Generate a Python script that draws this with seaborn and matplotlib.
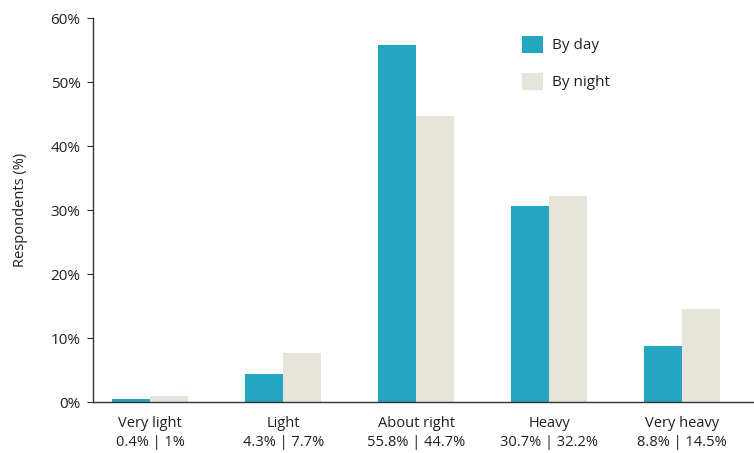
import matplotlib
matplotlib.use("Agg")
import matplotlib.pyplot as plt
import seaborn as sns
import pandas as pd
from matplotlib.patches import Patch

categories = ["Very light", "Light", "About right", "Heavy", "Very heavy"]
by_day = [0.4, 4.3, 55.8, 30.7, 8.8]
by_night = [1.0, 7.7, 44.7, 32.2, 14.5]
series_names = ["By day", "By night"]
y_ticks = [0, 10, 20, 30, 40, 50, 60]

colors = {"By day": "#22A5C0", "By night": "#E6E4DA"}
text_color = "#231F20"

sns.set_theme(style="ticks")
plt.rcParams["font.family"] = ["Open Sans", "DejaVu Sans"]

df = pd.DataFrame({
    "category": categories * 2,
    "value": by_day + by_night,
    "series": [series_names[0]] * len(categories) + [series_names[1]] * len(categories),
})

fig = plt.figure(figsize=(7.54, 4.53), dpi=100)
ax = fig.add_axes([93 / 754, 1 - 402 / 453, 1 - 93 / 754, (402 - 18) / 453])

sns.barplot(data=df, x="category", y="value", hue="series", order=categories,
            hue_order=series_names, palette=colors, width=0.57, saturation=1,
            linewidth=0, ax=ax, legend=False)

def fmt(v):
    return f"{v:g}%"

ax.set_xticks(range(len(categories)))
ax.set_xticklabels([f"{c}\n{fmt(d)} | {fmt(n)}" for c, d, n in zip(categories, by_day, by_night)],
                   fontsize=10.5, color=text_color, linespacing=1.4)
ax.tick_params(axis="x", length=0, pad=10)
ax.set_yticks(y_ticks)
ax.set_yticklabels([f"{t}%" for t in y_ticks], fontsize=11, color=text_color)
ax.tick_params(axis="y", length=4, width=0.8, color="#333333", pad=5)
ax.set_ylim(0, 60)
ax.set_xlim(-0.43, 4.54)
ax.set_xlabel("")
ax.set_ylabel("Respondents (%)", fontsize=10.5, color=text_color, labelpad=16)

for side in ["top", "right"]:
    ax.spines[side].set_visible(False)
for side in ["left", "bottom"]:
    ax.spines[side].set_color("#333333")
    ax.spines[side].set_linewidth(1.0)

handles = [Patch(facecolor=colors[s], edgecolor="none") for s in series_names]
leg = ax.legend(handles, series_names, loc="upper left", bbox_to_anchor=(0.628, 0.99),
                frameon=False, fontsize=11, handlelength=1.4, handleheight=1.4,
                handletextpad=0.6, labelspacing=1.25, labelcolor=text_color)

fig.savefig("out.png", dpi=100)
